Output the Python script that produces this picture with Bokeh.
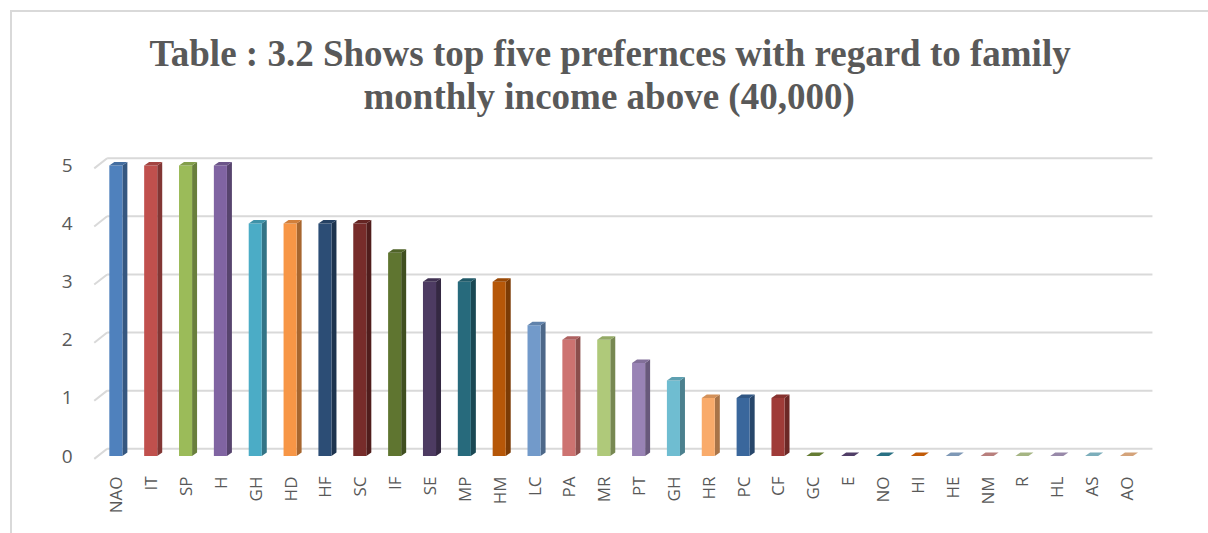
import math
from bokeh.plotting import figure
from bokeh.models import Range1d, FixedTicker, Title
from bokeh.embed import file_html
from bokeh.resources import INLINE

categories = ["NAO", "IT", "SP", "H", "GH", "HD", "HF", "SC", "IF", "SE",
              "MP", "HM", "LC", "PA", "MR", "PT", "GH", "HR", "PC", "CF",
              "GC", "E", "NO", "HI", "HE", "NM", "R", "HL", "AS", "AO"]
values = [5, 5, 5, 5, 4, 4, 4, 4, 3.5, 3,
          3, 3, 2.25, 2, 2, 1.6, 1.3, 1, 1, 1,
          0, 0, 0, 0, 0, 0, 0, 0, 0, 0]
colors = ["#4F81BD", "#C0504D", "#9BBB59", "#8064A2", "#4BACC6", "#F79646",
          "#2C4D75", "#772C2A", "#5F7530", "#4D3B62", "#276A7C", "#B65708",
          "#729ACA", "#CD7371", "#AFC97A", "#9983B5", "#6FBDD1", "#F9AB6B",
          "#3A679C", "#9F3B38", "#77933C", "#5F497A", "#31859C", "#E46C0A",
          "#95B3D7", "#D99694", "#C3D69B", "#B3A2C7", "#93CDDD", "#FAC090"]
y_ticks = [0, 1, 2, 3, 4, 5]
title_line1 = "Table : 3.2 Shows top five prefernces with regard to family"
title_line2 = "monthly income above (40,000)"


def shade(hex_color, f):
    h = hex_color.lstrip("#")
    r, g, b = (int(h[i:i + 2], 16) for i in (0, 2, 4))
    return "#%02x%02x%02x" % (int(r * f), int(g * f), int(b * f))


xs = list(range(len(categories)))
W = 0.375     # front face width (category units)
DX = 0.143    # depth shift right
DY = 0.06     # depth shift up
WDX = 0.37    # back wall shift right
WDY = 0.125   # back wall shift up

p = figure(width=1198, height=523, margin=(10, 0, 0, 10),
           x_range=Range1d(-0.67, 29.775), y_range=Range1d(-0.129, 5.206),
           output_backend="svg", toolbar_location=None,
           min_border_left=80, min_border_right=57,
           min_border_bottom=72, min_border_top=141)
p.styles = {"border-left": "2px solid #d9d9d9", "border-top": "2px solid #d9d9d9"}
p.outline_line_color = None
p.xgrid.visible = False
p.ygrid.visible = False

# titles (p.title is the outer line, the added one sits nearer the frame)
title_style = dict(align="left", text_font="Liberation Serif",
                   text_font_size="37px", text_font_style="bold",
                   text_color="#595959")
p.title.text = title_line1
for k, v in title_style.items():
    setattr(p.title, k, v)
p.title.offset = 57
try:
    p.title.standoff = -74
except Exception:
    p.title.standoff = 0
t2 = Title(text=title_line2, standoff=74, offset=271, **title_style)
p.add_layout(t2, "above")

# back wall gridlines + left depth diagonals
x_end = p.x_range.end - 0.03
p.segment(x0=[-0.25] * len(y_ticks), y0=[t + WDY for t in y_ticks],
          x1=[x_end] * len(y_ticks), y1=[t + WDY for t in y_ticks],
          line_color="#d9d9d9", line_width=2)
p.segment(x0=[-0.25 - WDX] * len(y_ticks), y0=[t - 0.05 for t in y_ticks],
          x1=[-0.25] * len(y_ticks), y1=[t + WDY for t in y_ticks],
          line_color="#d9d9d9", line_width=2)

# 3-D bars: side faces, front faces, top faces
side_xs, side_ys, top_xs, top_ys = [], [], [], []
for x, v in zip(xs, values):
    side_xs.append([x + W / 2, x + W / 2 + DX, x + W / 2 + DX, x + W / 2])
    side_ys.append([0, DY, v + DY, v])
    top_xs.append([x - W / 2, x + W / 2, x + W / 2 + DX, x - W / 2 + DX])
    top_ys.append([v, v, v + DY, v + DY])

p.patches(side_xs, side_ys, fill_color=[shade(c, 0.68) for c in colors], line_color=None)
p.vbar(x=xs, top=values, bottom=0, width=W, fill_color=colors, line_color=None)
p.patches(top_xs, top_ys, fill_color=[shade(c, 0.85) for c in colors], line_color=None)

# axes
p.yaxis.ticker = FixedTicker(ticks=y_ticks)
p.yaxis.axis_line_color = None
p.yaxis.major_tick_line_color = None
p.yaxis.minor_tick_line_color = None
p.yaxis.major_label_standoff = 14
p.yaxis.major_label_text_font = "Open Sans"
p.yaxis.major_label_text_font_size = "19px"
p.yaxis.major_label_text_color = "#595959"

p.xaxis.ticker = FixedTicker(ticks=xs)
p.xaxis.major_label_overrides = {i: c for i, c in zip(xs, categories)}
p.xaxis.major_label_orientation = math.pi / 2
p.xaxis.axis_line_color = None
p.xaxis.major_tick_line_color = None
p.xaxis.minor_tick_line_color = None
p.xaxis.major_label_standoff = 7
p.xaxis.major_label_text_font = "Open Sans"
p.xaxis.major_label_text_font_size = "17px"
p.xaxis.major_label_text_color = "#595959"

open("out.html", "w").write(file_html(p, INLINE))
